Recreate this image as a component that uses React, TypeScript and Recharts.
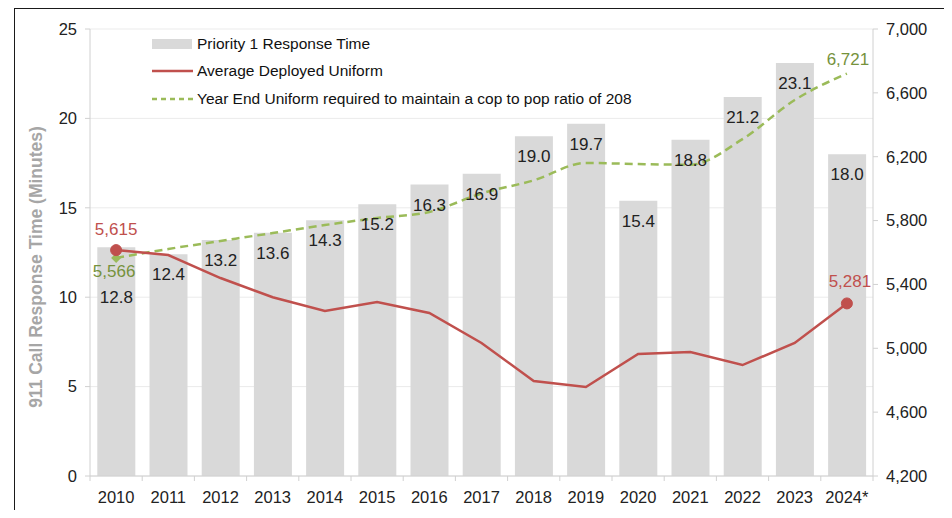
import React from 'react';
import { ComposedChart, Bar, Line, XAxis, YAxis, CartesianGrid, LabelList, Label } from 'recharts';

const years = ['2010', '2011', '2012', '2013', '2014', '2015', '2016', '2017', '2018', '2019', '2020', '2021', '2022', '2023', '2024*'];
const responseTime = [12.8, 12.4, 13.2, 13.6, 14.3, 15.2, 16.3, 16.9, 19.0, 19.7, 15.4, 18.8, 21.2, 23.1, 18.0];
const avgDeployed = [5615, 5584, 5440, 5320, 5234, 5290, 5221, 5033, 4795, 4757, 4964, 4977, 4895, 5033, 5281];
const yearEndRequired = [5566, 5622, 5672, 5722, 5772, 5816, 5854, 5970, 6052, 6161, 6154, 6150, 6310, 6555, 6721];

const leftTicks = [0, 5, 10, 15, 20, 25];
const rightTicks = [4200, 4600, 5000, 5400, 5800, 6200, 6600, 7000];

const FONT = '"Liberation Sans", Arial, sans-serif';
const RED = '#c0504d';
const GREEN = '#9bbb59';
const GREEN_TEXT = '#76923c';
const BAR = '#d9d9d9';
const AXIS = '#d0d0d0';

const data = years.map((year, i) => ({
  year,
  response: responseTime[i],
  deployed: avgDeployed[i],
  required: yearEndRequired[i],
}));

const last = years.length - 1;
const fmt = (v: number) => v.toLocaleString('en-US');

// Excel style: ticks sit between categories
const XTick = ({ x, y, payload, index }: any) => {
  const half = payload && payload.offset ? payload.offset : 26.1;
  const top = y - 8;
  return (
    <g>
      <line x1={x - half} x2={x - half} y1={top} y2={top + 5} stroke={AXIS} />
      {index === last && <line x1={x + half} x2={x + half} y1={top} y2={top + 5} stroke={AXIS} />}
      <text x={x} y={top + 21} dy="0.35em" textAnchor="middle" fontSize={16.5} fill="#222" fontFamily={FONT}>
        {payload.value}
      </text>
    </g>
  );
};

const BarValue = ({ x, y, width, value, index }: any) => (
  <text x={x + width / 2} y={y + (index === 0 ? 50 : 20)} dy="0.35em" textAnchor="middle" fontSize={17} fill="#222" fontFamily={FONT}>
    {value.toFixed(1)}
  </text>
);

// only the first and last point of each line get a value
const RedLabel = ({ x, y, value, index }: any) => {
  if (index !== 0 && index !== last) return null;
  return (
    <text x={x + (index === last ? 3 : 0)} y={y + (index === last ? -22 : -21)} dy="0.35em" textAnchor="middle" fontSize={17} fill={RED} fontFamily={FONT}>
      {fmt(value)}
    </text>
  );
};

const GreenLabel = ({ x, y, value, index }: any) => {
  if (index !== 0 && index !== last) return null;
  return (
    <text x={x + (index === last ? 1 : -2)} y={y + (index === last ? -14 : 13)} dy="0.35em" textAnchor="middle" fontSize={17} fill={GREEN_TEXT} fontFamily={FONT}>
      {fmt(value)}
    </text>
  );
};

const RedDot = ({ cx, cy, index }: any) =>
  index === 0 || index === last ? (
    <circle key={`r-${index}`} cx={cx} cy={cy} r={5.5} fill={RED} stroke={RED} />
  ) : (
    <g key={`r-${index}`} />
  );

const GreenDot = ({ cx, cy, index }: any) =>
  index === 0 ? (
    <path key={`g-${index}`} d={`M${cx},${cy - 5} L${cx + 5},${cy} L${cx},${cy + 5} L${cx - 5},${cy} Z`} fill={GREEN} />
  ) : (
    <g key={`g-${index}`} />
  );

const legendItems = [
  { label: 'Priority 1 Response Time', kind: 'bar' },
  { label: 'Average Deployed Uniform', kind: 'line' },
  { label: 'Year End Uniform required to maintain a cop to pop ratio of 208', kind: 'dash' },
];

const App: React.FC = () => {
  return (
    <div style={{ position: 'relative', width: 952, height: 518, margin: -8, overflow: 'hidden', background: '#fff' }}>
      <div style={{ position: 'absolute', left: 2, top: 0, width: 1, height: 518, background: '#c8c8c8' }} />
      <div style={{ position: 'absolute', left: 14, top: 8, width: 932, height: 530, border: '1.5px solid #1a1a1a' }} />
      <ComposedChart
        width={952}
        height={518}
        data={data}
        margin={{ top: 29, right: 0, bottom: 0, left: 0 }}
        barCategoryGap="14%"
        style={{ position: 'absolute', left: 0, top: 0 }}
      >
        <CartesianGrid vertical={false} stroke="#ebebeb" yAxisId="left" />
        <XAxis
          dataKey="year"
          height={42}
          tickSize={6}
          tickMargin={2}
          tickLine={false}
          axisLine={{ stroke: AXIS }}
          tick={<XTick />}
          interval={0}
        />
        <YAxis
          yAxisId="left"
          width={90}
          domain={[0, 25]}
          ticks={leftTicks}
          tickSize={5}
          tickMargin={8}
          axisLine={{ stroke: AXIS }}
          tickLine={{ stroke: AXIS }}
          tick={{ fontSize: 16.5, fill: '#222', fontFamily: FONT }}
        >
          <Label
            content={() => (
              <text
                x={36}
                y={267}
                transform="rotate(-90 36 267)"
                textAnchor="middle"
                dy="0.35em"
                fontSize={17.5}
                fontWeight="bold"
                fill="#a6a6a6"
                fontFamily={FONT}
              >
                911 Call Response Time (Minutes)
              </text>
            )}
          />
        </YAxis>
        <YAxis
          yAxisId="right"
          orientation="right"
          width={79}
          domain={[4200, 7000]}
          ticks={rightTicks}
          tickSize={5}
          tickMargin={8}
          tickFormatter={fmt}
          axisLine={{ stroke: AXIS }}
          tickLine={{ stroke: AXIS }}
          tick={{ fontSize: 16.5, fill: '#222', fontFamily: FONT }}
        />
        <Bar yAxisId="left" dataKey="response" fill={BAR} isAnimationActive={false}>
          <LabelList dataKey="response" content={<BarValue />} />
        </Bar>
        <Line
          yAxisId="right"
          type="monotone"
          dataKey="required"
          stroke={GREEN}
          strokeWidth={2.5}
          strokeDasharray="8 5"
          dot={<GreenDot />}
          activeDot={false}
          isAnimationActive={false}
        >
          <LabelList dataKey="required" content={<GreenLabel />} />
        </Line>
        <Line
          yAxisId="right"
          type="linear"
          dataKey="deployed"
          stroke={RED}
          strokeWidth={2.5}
          dot={<RedDot />}
          activeDot={false}
          isAnimationActive={false}
        >
          <LabelList dataKey="deployed" content={<RedLabel />} />
        </Line>
      </ComposedChart>
      <div style={{ position: 'absolute', left: 152, top: 30, fontFamily: FONT, fontSize: 15.5, color: '#111' }}>
        {legendItems.map((item) => (
          <div key={item.label} style={{ display: 'flex', alignItems: 'center', height: 27.5 }}>
            <svg width={42} height={14} style={{ marginRight: 3 }}>
              {item.kind === 'bar' && <rect x={0} y={2} width={40} height={10} fill={BAR} />}
              {item.kind === 'line' && <line x1={0} x2={41} y1={7} y2={7} stroke={RED} strokeWidth={2.5} />}
              {item.kind === 'dash' && (
                <line x1={0} x2={41} y1={7} y2={7} stroke={GREEN} strokeWidth={2.5} strokeDasharray="5 4" />
              )}
            </svg>
            <span>{item.label}</span>
          </div>
        ))}
      </div>
    </div>
  );
};

export default App;
